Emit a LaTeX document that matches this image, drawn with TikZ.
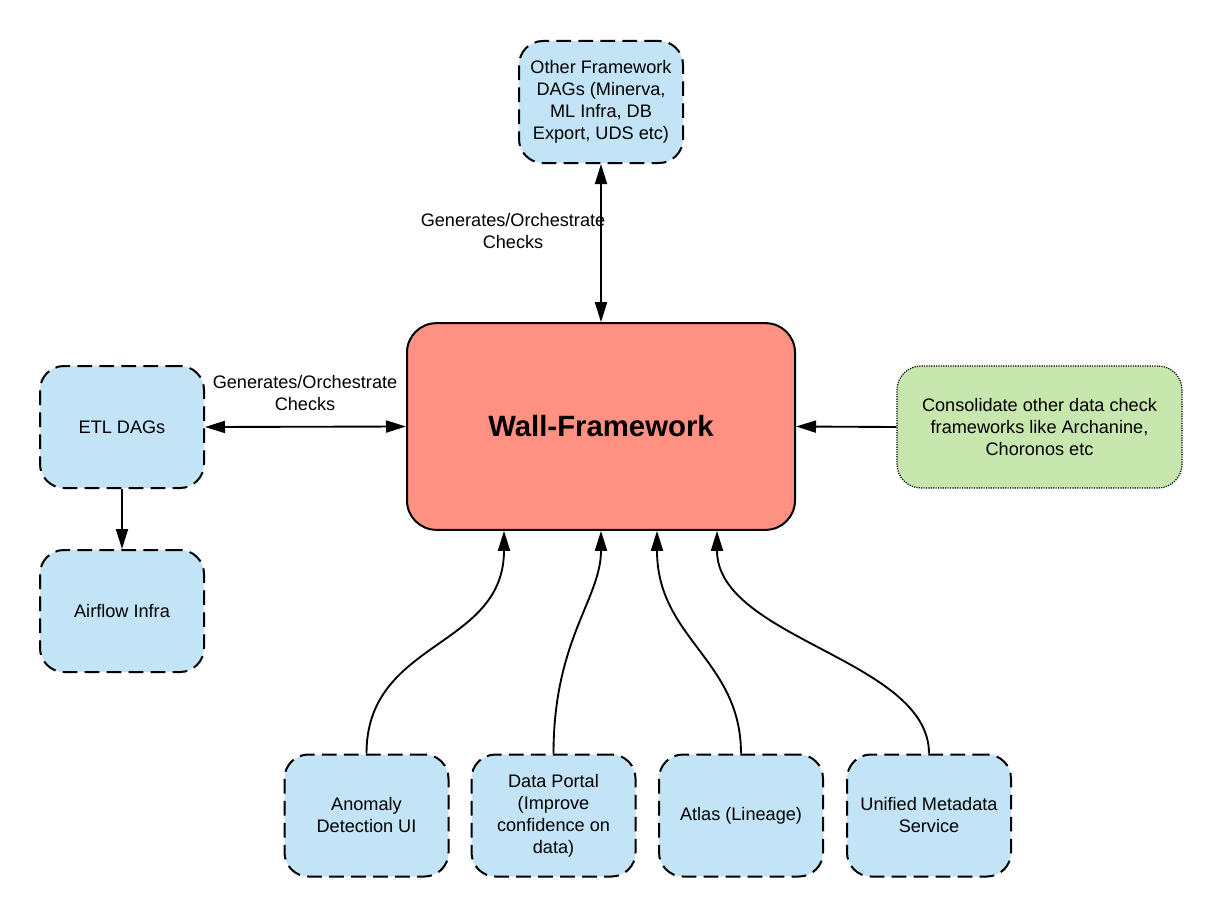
\documentclass[tikz,border=0pt]{standalone}
\usepackage{fontspec}
\setmainfont{Liberation Sans}
\usetikzlibrary{arrows.meta,calc}
\definecolor{boxblue}{HTML}{C2E4F6}
\definecolor{wallred}{HTML}{FF9183}
\definecolor{boxgreen}{HTML}{C8E7AE}
\tikzset{
  px/.style={x=0.75pt,y=-0.75pt},
  txt/.style={font=\fontsize{13.6}{16.5}\selectfont},
  bluebox/.style={txt,draw=black,fill=boxblue,line width=1.5pt,dash pattern=on 11pt off 5.5pt,
    rounded corners=18pt,minimum width=123pt,minimum height=91.5pt,inner sep=2pt,
    align=center},
  wallbox/.style={draw=black,fill=wallred,line width=1.5pt,rounded corners=22pt,
    minimum width=291pt,minimum height=155pt,align=center,
    font=\fontsize{22}{26}\selectfont\bfseries},
  greenbox/.style={txt,draw=black,fill=boxgreen,line width=0.9pt,dash pattern=on 0.9pt off 0.9pt,
    rounded corners=18pt,minimum width=213.75pt,minimum height=91.5pt,align=center},
  lbl/.style={txt,align=center,inner sep=0pt},
  arr/.style={line width=1.4pt,-{Triangle[length=15pt,width=9pt]}},
  darr/.style={line width=1.4pt,{Triangle[length=15pt,width=9pt]}-{Triangle[length=15pt,width=9pt]}},
}
\begin{document}
\begin{tikzpicture}[px]
\useasboundingbox (0,0) rectangle (1224,917);
\node[bluebox] (other) at (601,102) {Other Framework\\DAGs (Minerva,\\ML Infra, DB\\Export, UDS etc)};
\node[wallbox] (wall) at (601,426.5) {Wall-Framework};
\node[bluebox] (etl) at (122,427) {ETL DAGs};
\node[bluebox] (air) at (122,611) {Airflow Infra};
\node[greenbox] (cons) at (1039.5,427) {Consolidate other data check\\frameworks like Archanine,\\Choronos etc};
\node[bluebox] (anom) at (366.5,815.5) {Anomaly\\Detection UI};
\node[bluebox] (portal) at (553.5,815.5) {Data Portal\\(Improve\\confidence on\\data)};
\node[bluebox] (atlas) at (741,815.5) {Atlas (Lineage)};
\node[bluebox] (ums) at (929,815.5) {Unified Metadata\\Service};

\node[lbl] (l1) at (513,231) {Generates/Orchestrate\\Checks};
\node[lbl] (l2) at (305,393) {Generates/Orchestrate\\Checks};

\coordinate (w1) at ([xshift=-72.75pt]wall.south);
\coordinate (w2) at (wall.south);
\coordinate (w3) at ([xshift=42pt]wall.south);
\coordinate (w4) at ([xshift=87pt]wall.south);

\draw[darr] (other.south) -- (wall.north);
\draw[darr] (etl.east) -- (wall.west);
\draw[arr] (cons.west) -- (wall.east);
\draw[arr] (etl.south) -- (air.north);
\draw[arr] (anom.north) .. controls +(0,-114) and +(0,118) .. (w1);
\draw[arr] (portal.north) .. controls +(0,-114) and +(0,68) .. (w2);
\draw[arr] (atlas.north) .. controls +(0,-94) and +(0,108) .. (w3);
\draw[arr] (ums.north) .. controls +(0,-94) and +(0,108) .. (w4);
\end{tikzpicture}
\end{document}
